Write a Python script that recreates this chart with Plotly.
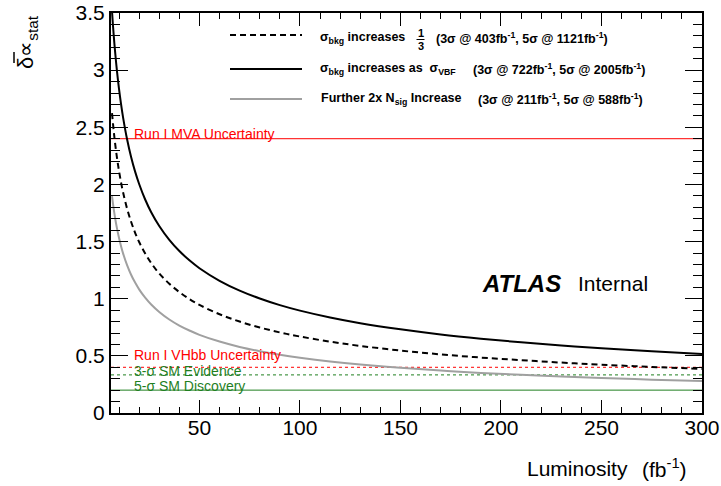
import plotly.graph_objects as go

# Integrated luminosity (fb^-1) at which each projection was evaluated
lumi = [6.5, 7, 7.5, 8, 9, 10, 11, 12, 14, 16, 18, 20, 23, 26, 30, 35, 40, 45, 50,
        60, 70, 80, 90, 100, 115, 130, 150, 170, 190, 210, 230, 250, 275, 300]

# Expected delta / sigma_stat for each scenario
bkg_third = [2.624, 2.529, 2.443, 2.365, 2.230, 2.116, 2.017, 1.931, 1.788, 1.673, 1.577,
             1.496, 1.395, 1.312, 1.221, 1.131, 1.058, 0.997, 0.946, 0.864, 0.800, 0.748,
             0.705, 0.669, 0.624, 0.587, 0.546, 0.513, 0.485, 0.462, 0.441, 0.423, 0.403, 0.386]
bkg_vbf = [3.514, 3.386, 3.272, 3.168, 2.987, 2.833, 2.702, 2.587, 2.395, 2.240, 2.112,
           2.004, 1.868, 1.757, 1.636, 1.515, 1.417, 1.336, 1.267, 1.157, 1.071, 1.002,
           0.944, 0.896, 0.836, 0.786, 0.732, 0.687, 0.650, 0.618, 0.591, 0.567, 0.540, 0.517]
nsig_2x = [1.898, 1.829, 1.767, 1.711, 1.613, 1.531, 1.459, 1.397, 1.294, 1.210, 1.141,
           1.082, 1.009, 0.949, 0.884, 0.818, 0.765, 0.722, 0.684, 0.625, 0.578, 0.541,
           0.510, 0.484, 0.451, 0.424, 0.395, 0.371, 0.351, 0.334, 0.319, 0.306, 0.292, 0.279]

# Reference levels
run1_mva = 2.4
run1_vhbb = 0.4
evidence_3sigma = 1 / 3
discovery_5sigma = 0.2

x_range = [6, 300]
y_range = [0, 3.5]

W, H = 721, 486
ML, MR, MT, MB = 111, 19, 13, 73
PW, PH = W - ML - MR, H - MT - MB


def pxx(p):
    return (p - ML) / PW


def pxy(p):
    return (H - MB - p) / PH


FONT = "Liberation Sans, Arial, sans-serif"
GRAY = "#a0a0a0"
GREEN = "#1f7f1f"
RED = "#ff0000"

fig = go.Figure()

fig.add_trace(go.Scatter(x=lumi, y=bkg_third, mode="lines", line_shape="spline",
                         line=dict(color="black", width=2, dash="6px,4px"),
                         showlegend=False, cliponaxis=True))
fig.add_trace(go.Scatter(x=lumi, y=bkg_vbf, mode="lines", line_shape="spline",
                         line=dict(color="black", width=2),
                         showlegend=False, cliponaxis=True))
fig.add_trace(go.Scatter(x=lumi, y=nsig_2x, mode="lines", line_shape="spline",
                         line=dict(color=GRAY, width=2),
                         showlegend=False, cliponaxis=True))

shapes = []
# horizontal reference lines
for level, color, dash in [(run1_mva, RED, "solid"), (run1_vhbb, RED, "dot"),
                           (evidence_3sigma, GREEN, "dot"), (discovery_5sigma, GREEN, "solid")]:
    shapes.append(dict(type="line", xref="paper", yref="y", x0=0, x1=1, y0=level, y1=level,
                       line=dict(color=color, width=1, dash=dash), layer="below"))

# legend line samples
for yy, color, dash in [(35, "black", "6px,4px"), (69, "black", "solid"), (99, GRAY, "solid")]:
    shapes.append(dict(type="line", xref="paper", yref="paper", x0=pxx(230), x1=pxx(302),
                       y0=pxy(yy), y1=pxy(yy), line=dict(color=color, width=2, dash=dash)))
# fraction bar
shapes.append(dict(type="line", xref="paper", yref="paper", x0=pxx(416.5), x1=pxx(424.5),
                   y0=pxy(39.5), y1=pxy(39.5), line=dict(color="black", width=1)))
# bar over the delta in the rotated axis title
shapes.append(dict(type="line", xref="paper", yref="paper", x0=pxx(14), x1=pxx(14),
                   y0=pxy(52), y1=pxy(63), line=dict(color="black", width=1.5)))

annotations = []


def ann(text, x, y, size, color="black", xanchor="left", yanchor="middle", angle=0):
    annotations.append(dict(text=text, x=pxx(x), y=pxy(y), xref="paper", yref="paper",
                            xanchor=xanchor, yanchor=yanchor, showarrow=False, textangle=angle,
                            font=dict(family=FONT, size=size, color=color)))


LEG = 12.5
ann("<b>σ<sub>bkg</sub> increases</b>", 318, 38, LEG)
ann("<b>1</b>", 420.5, 33, 11, xanchor="center")
ann("<b>3</b>", 420.5, 46, 11, xanchor="center")
ann("<b>(3σ @ 403fb<sup>-1</sup>, 5σ @ 1121fb<sup>-1</sup>)</b>", 434, 38, LEG)
ann("<b>σ<sub>bkg</sub> increases as  σ<sub>VBF</sub></b>", 318, 69, LEG)
ann("<b>(3σ @ 722fb<sup>-1</sup>, 5σ @ 2005fb<sup>-1</sup>)</b>", 471, 69, LEG)
ann("<b>Further 2x N<sub>sig</sub> Increase</b>", 319, 99, LEG)
ann("<b>(3σ @ 211fb<sup>-1</sup>, 5σ @ 588fb<sup>-1</sup>)</b>", 476, 99, LEG)

ann("Run I MVA Uncertainty", 132, 134, 14, RED)
ann("Run I VHbb Uncertainty", 132, 355, 14, RED)
ann("3-σ SM Evidence", 132, 371, 14, GREEN)
ann("5-σ SM Discovery", 132, 386, 14, GREEN)

ann("<b><i>ATLAS</i></b>", 480, 283, 24)
ann("Internal", 576, 283, 21)

# x-axis title, drawn in two pieces for the wider gap before the unit
ann("Luminosity", 630, 468, 21, xanchor="right")
ann("(fb<sup>-1</sup>)", 640, 468, 21)
ann("δ∝<sub>stat</sub>", 27, 13, 22, xanchor="center", yanchor="top", angle=-90)

axis_common = dict(showline=True, linecolor="black", linewidth=2, mirror="allticks",
                   ticks="inside", tickcolor="black", tickwidth=1, showgrid=False,
                   zeroline=False, automargin=False,
                   tickfont=dict(family=FONT, size=21, color="black"))

fig.update_layout(
    width=W, height=H,
    margin=dict(l=ML, r=MR, t=MT, b=MB, pad=0, autoexpand=False),
    paper_bgcolor="white", plot_bgcolor="white",
    xaxis=dict(range=x_range, tick0=0, dtick=50, ticklen=13, ticklabelstandoff=-5,
               minor=dict(ticks="inside", dtick=10, tick0=0, ticklen=6, tickcolor="black"),
               **axis_common),
    yaxis=dict(range=y_range, tick0=0, dtick=0.5, ticklen=17, ticklabelstandoff=0,
               minor=dict(ticks="inside", dtick=0.1, tick0=0, ticklen=9, tickcolor="black"),
               **axis_common),
    shapes=shapes, annotations=annotations,
)

fig.write_html("out.html")
